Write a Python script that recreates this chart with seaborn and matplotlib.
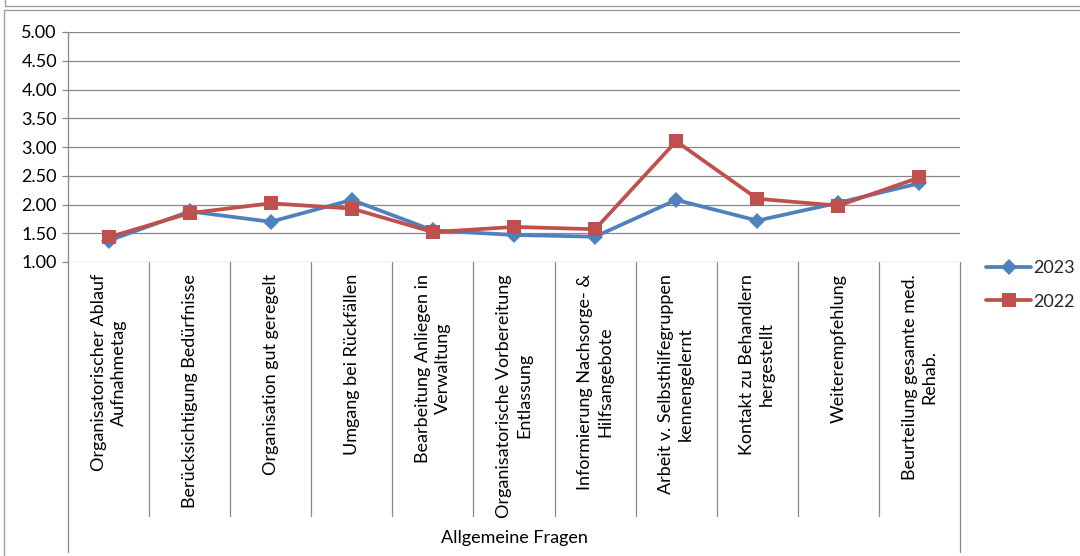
import matplotlib
matplotlib.use("Agg")
import matplotlib.pyplot as plt
import seaborn as sns
import pandas as pd
from matplotlib.lines import Line2D
import matplotlib.transforms as mtransforms

categories = [
    "Organisatorischer Ablauf\nAufnahmetag",
    "Berücksichtigung Bedürfnisse",
    "Organisation gut geregelt",
    "Umgang bei Rückfällen",
    "Bearbeitung Anliegen in\nVerwaltung",
    "Organisatorische Vorbereitung\nEntlassung",
    "Informierung Nachsorge- &\nHilfsangebote",
    "Arbeit v. Selbsthilfegruppen\nkennengelernt",
    "Kontakt zu Behandlern\nhergestellt",
    "Weiterempfehlung",
    "Beurteilung gesamte med.\nRehab.",
]
group_label = "Allgemeine Fragen"
values_2023 = [1.37, 1.88, 1.70, 2.08, 1.55, 1.47, 1.44, 2.08, 1.72, 2.03, 2.37]
values_2022 = [1.43, 1.85, 2.02, 1.93, 1.52, 1.61, 1.57, 3.10, 2.10, 1.98, 2.47]
series_names = ["2023", "2022"]
yticks = [1.00, 1.50, 2.00, 2.50, 3.00, 3.50, 4.00, 4.50, 5.00]

sns.set_theme(style="white")
plt.rcParams["font.family"] = ["Lato", "DejaVu Sans"]

df = pd.concat([
    pd.DataFrame({"pos": range(len(categories)), "value": values_2023, "year": "2023"}),
    pd.DataFrame({"pos": range(len(categories)), "value": values_2022, "year": "2022"}),
])

W, H = 1080, 556
fig = plt.figure(figsize=(W / 100, H / 100), dpi=100)
ax = fig.add_axes([68 / W, 1 - 262 / H, (960 - 68) / W, (262 - 32) / H])

blue = "#4F81BD"
red = "#C0504D"
grid_c = "#888888"
FS = 13
LW = 2.7
MS_D = 8.0
MS_S = 9.5

sns.lineplot(data=df, x="pos", y="value", hue="year", style="year",
             hue_order=series_names, style_order=series_names,
             palette={"2023": blue, "2022": red},
             markers={"2023": "D", "2022": "s"}, dashes=False,
             linewidth=LW, markersize=MS_S, markeredgewidth=0,
             ax=ax, legend=False, clip_on=False)
for ln in ax.get_lines():
    if ln.get_marker() == "s":
        ln.set_markersize(MS_S)
    elif ln.get_marker() == "D":
        ln.set_markersize(MS_D)

ax.set_xlim(-0.5, len(categories) - 0.5)
ax.set_ylim(1.0, 5.0)
ax.set_yticks(yticks)
ax.set_yticklabels([f"{v:.2f}" for v in yticks], fontsize=FS, color="#000000")
ax.set_xticks([])
ax.set_xlabel("")
ax.set_ylabel("")
ax.grid(False)
for v in yticks:
    ax.axhline(v, color=grid_c, lw=0.9, zorder=0)
for s in ["top", "right", "bottom"]:
    ax.spines[s].set_visible(False)
ax.spines["left"].set_color(grid_c)
ax.spines["left"].set_linewidth(0.9)
ax.tick_params(axis="y", length=4, width=0.9, color=grid_c, pad=4, left=True)

# category axis (multi-level)
trans = mtransforms.blended_transform_factory(ax.transData, fig.transFigure)
def fy(px):
    return 1 - px / H
n = len(categories)
for k in range(n + 1):
    bottom = 552 if k in (0, n) else 516
    ax.add_line(Line2D([k - 0.5, k - 0.5], [fy(262), fy(bottom)], transform=trans,
                       color=grid_c, lw=0.9, clip_on=False))
for i, lab in enumerate(categories):
    ax.text(i, fy(274), lab, transform=trans, rotation=90, ha="center", va="top",
            multialignment="center", fontsize=FS, linespacing=1.3, color="#000000")
ax.text((n - 1) / 2, fy(538), group_label, transform=trans, ha="center", va="center",
        fontsize=FS, color="#000000")

# chart borders
fig.add_artist(Line2D([4 / W, 4 / W], [fy(10), 0], transform=fig.transFigure, color="#A0A0A0", lw=1.0))
fig.add_artist(Line2D([4 / W, 1], [fy(10), fy(10)], transform=fig.transFigure, color="#A0A0A0", lw=1.0))
fig.add_artist(Line2D([5 / W, 1], [fy(6), fy(6)], transform=fig.transFigure, color="#A0A0A0", lw=1.0))
fig.add_artist(Line2D([5 / W, 5 / W], [fy(6), 1], transform=fig.transFigure, color="#A0A0A0", lw=1.0))

# legend
handles = [
    Line2D([], [], color=blue, lw=LW, marker="D", markersize=MS_D, markeredgewidth=0),
    Line2D([], [], color=red, lw=LW, marker="s", markersize=MS_S, markeredgewidth=0),
]
fig.legend(handles, series_names, loc="center left", bbox_to_anchor=(986 / W, fy(285)),
           frameon=False, fontsize=FS, handlelength=2.5, handletextpad=0.1,
           labelspacing=0.95, borderpad=0, borderaxespad=0)

fig.savefig("out.png", dpi=100)
